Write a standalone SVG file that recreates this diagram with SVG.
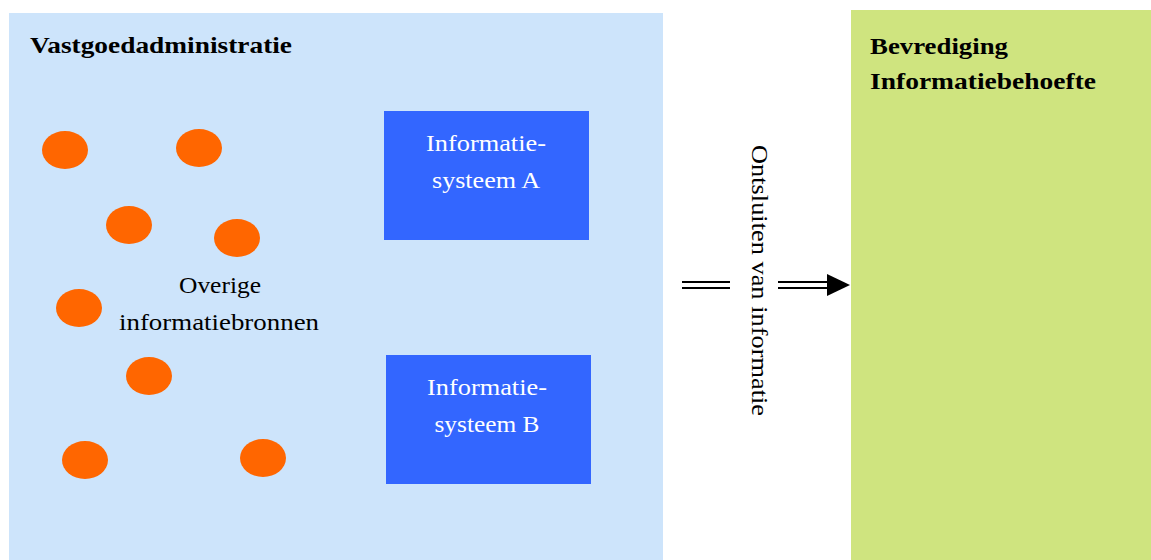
<svg xmlns="http://www.w3.org/2000/svg" width="1151" height="560" viewBox="0 0 1151 560">
<style>
.t{font-family:"Liberation Serif",serif;font-size:23px;fill:#000}
.b{font-weight:bold;font-size:23px}
.w{fill:#fff;text-anchor:middle}
.dot{fill:#ff6600}
.sys{fill:#3366ff}
.ln{stroke:#000;stroke-width:2.2;fill:none}
</style>
<rect width="1151" height="560" fill="#fff"/>
<g id="vastgoedadministratie">
<rect x="9" y="13" width="654" height="547" fill="#cde4fb"/>
<text class="t b" x="30" y="53" textLength="262" lengthAdjust="spacingAndGlyphs">Vastgoedadministratie</text>
</g>
<g id="bevrediging">
<rect x="851" y="10" width="300" height="550" fill="#cfe47f"/>
<text class="t b" x="870" y="54" textLength="138" lengthAdjust="spacingAndGlyphs">Bevrediging</text>
<text class="t b" x="870" y="89" textLength="226" lengthAdjust="spacingAndGlyphs">Informatiebehoefte</text>
</g>
<g id="bronnen">
<ellipse class="dot" cx="65" cy="150" rx="23" ry="19"/>
<ellipse class="dot" cx="199" cy="148" rx="23" ry="19"/>
<ellipse class="dot" cx="129" cy="225" rx="23" ry="19"/>
<ellipse class="dot" cx="237" cy="238" rx="23" ry="19"/>
<ellipse class="dot" cx="79" cy="308" rx="23" ry="19"/>
<ellipse class="dot" cx="149" cy="376" rx="23" ry="19"/>
<ellipse class="dot" cx="85" cy="460" rx="23" ry="19"/>
<ellipse class="dot" cx="263" cy="458" rx="23" ry="19"/>
<text class="t" x="179" y="293" textLength="82" lengthAdjust="spacingAndGlyphs">Overige</text>
<text class="t" x="119" y="330" textLength="200" lengthAdjust="spacingAndGlyphs">informatiebronnen</text>
</g>
<g id="systeemA">
<rect class="sys" x="384" y="111" width="205" height="129"/>
<text class="t w" x="486" y="151" textLength="120" lengthAdjust="spacingAndGlyphs">Informatie-</text>
<text class="t w" x="486" y="188" textLength="108" lengthAdjust="spacingAndGlyphs">systeem A</text>
</g>
<g id="systeemB">
<rect class="sys" x="386" y="355" width="205" height="129"/>
<text class="t w" x="487" y="395" textLength="120" lengthAdjust="spacingAndGlyphs">Informatie-</text>
<text class="t w" x="487" y="432" textLength="105" lengthAdjust="spacingAndGlyphs">systeem B</text>
</g>
<g id="connectors">
<path class="ln" d="M682 282H730M682 288H730"/>
<path class="ln" d="M778 282H830M778 288H830"/>
<polygon points="827,274 850,285 827,296" fill="#000"/>
<text class="t" transform="translate(752,145) rotate(90)" x="0" y="0" font-size="21" textLength="271" lengthAdjust="spacingAndGlyphs">Ontsluiten van informatie</text>
</g>
</svg>
